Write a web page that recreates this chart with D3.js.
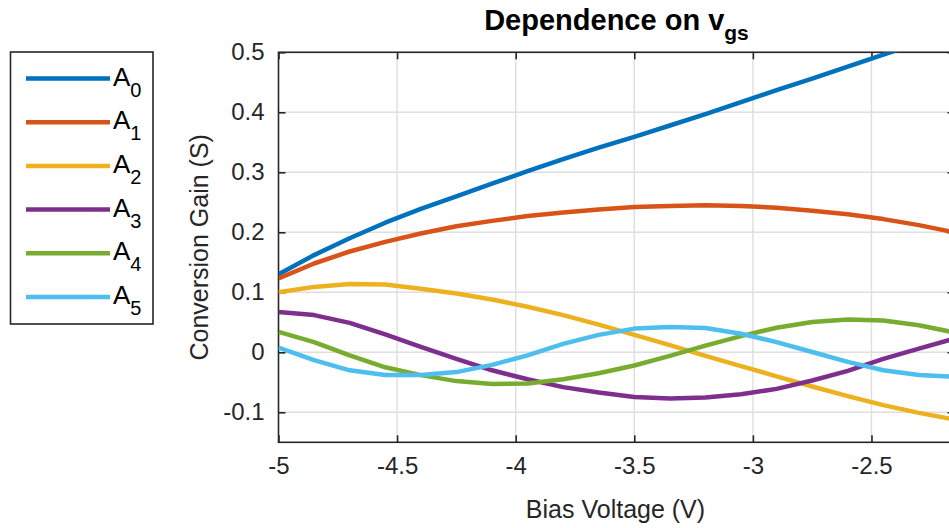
<!DOCTYPE html>
<html>
<head>
<meta charset="utf-8">
<script src="https://cdn.jsdelivr.net/npm/d3@7"></script>
<style>
  html, body { margin: 0; padding: 0; background: #fff; }
  svg { display: block; font-family: "Liberation Sans", Arial, Helvetica, sans-serif; }
</style>
</head>
<body>
<svg id="chart" width="949" height="528"></svg>
<script>
// ---------------- data ----------------
const biasVoltage = [-5, -4.85, -4.7, -4.55, -4.4, -4.25, -4.1, -3.95, -3.8, -3.65,
                     -3.5, -3.35, -3.2, -3.05, -2.9, -2.75, -2.6, -2.45, -2.3, -2.15];
const A0 = [0.130, 0.162, 0.190, 0.216, 0.239, 0.260, 0.281, 0.302, 0.322, 0.341,
            0.359, 0.378, 0.397, 0.417, 0.437, 0.456, 0.476, 0.496, 0.516, 0.536];
const A1 = [0.123, 0.148, 0.168, 0.184, 0.198, 0.210, 0.219, 0.227, 0.233, 0.238,
            0.242, 0.244, 0.245, 0.244, 0.241, 0.236, 0.230, 0.222, 0.212, 0.200];
const A2 = [0.100, 0.109, 0.114, 0.113, 0.106, 0.098, 0.088, 0.076, 0.062, 0.046,
            0.029, 0.012, -0.006, -0.023, -0.040, -0.057, -0.073, -0.088, -0.101, -0.112];
const A3 = [0.067, 0.062, 0.049, 0.030, 0.009, -0.011, -0.030, -0.045, -0.058, -0.067,
            -0.0745, -0.077, -0.0755, -0.070, -0.061, -0.047, -0.031, -0.011, 0.006, 0.023];
const A4 = [0.034, 0.017, -0.005, -0.025, -0.038, -0.048, -0.053, -0.052, -0.045, -0.035,
            -0.022, -0.006, 0.011, 0.027, 0.041, 0.0505, 0.0545, 0.053, 0.045, 0.033];
const A5 = [0.008, -0.013, -0.030, -0.038, -0.038, -0.033, -0.021, -0.005, 0.014, 0.029,
            0.0395, 0.042, 0.0405, 0.031, 0.017, 0.0005, -0.016, -0.030, -0.038, -0.041];
const seriesNames = ["0", "1", "2", "3", "4", "5"];
const seriesValues = [A0, A1, A2, A3, A4, A5];
const seriesColors = ["#0072BD", "#D95319", "#EDB120", "#7E2F8E", "#77AC30", "#4DBEEE"];
const xTicks = [-5, -4.5, -4, -3.5, -3, -2.5];
const yTicks = [-0.1, 0, 0.1, 0.2, 0.3, 0.4, 0.5];
const xDomain = [-5, -2.15];
const yDomain = [-0.15, 0.5];

// ---------------- layout ----------------
const svg = d3.select("#chart");
const L = 278.5, R = 954.5, T = 52.3, B = 442.3;
const axisColor = "#262626";
const x = d3.scaleLinear().domain(xDomain).range([L, R]);
const y = d3.scaleLinear().domain(yDomain).range([B, T]);

svg.append("defs").append("clipPath").attr("id", "plotclip")
  .append("rect").attr("x", L).attr("y", T).attr("width", R - L).attr("height", B - T);

// grid
const grid = svg.append("g").attr("stroke", "#dedede").attr("stroke-width", 1.4);
grid.selectAll("line.gx").data(xTicks.filter(d => d !== xDomain[0])).join("line")
  .attr("x1", d => x(d)).attr("x2", d => x(d)).attr("y1", T).attr("y2", B);
grid.selectAll("line.gy").data(yTicks).join("line")
  .attr("y1", d => y(d)).attr("y2", d => y(d)).attr("x1", L).attr("x2", R);

// axes via d3 axis generators
const tickLen = 7;
const fmtX = d => String(d);
const fmtY = d => (d === 0 ? "0" : d3.format(".1f")(d).replace("−", "-"));

function styleAxis(g) {
  g.select(".domain").remove();
  g.selectAll(".tick line").attr("stroke", axisColor).attr("stroke-width", 1.6);
  g.selectAll(".tick text").attr("fill", axisColor).attr("font-size", 24)
    .attr("font-family", "Liberation Sans, Arial, sans-serif");
}

const xAxisB = svg.append("g").attr("transform", `translate(0,${B})`)
  .call(d3.axisBottom(x).tickValues(xTicks).tickSize(-tickLen).tickPadding(15).tickFormat(fmtX));
styleAxis(xAxisB);
xAxisB.selectAll(".tick text").attr("dy", "0.68em");

const xAxisT = svg.append("g").attr("transform", `translate(0,${T})`)
  .call(d3.axisTop(x).tickValues(xTicks).tickSize(-tickLen).tickFormat(""));
styleAxis(xAxisT);

const yAxisL = svg.append("g").attr("transform", `translate(${L},0)`)
  .call(d3.axisLeft(y).tickValues(yTicks).tickSize(-tickLen).tickPadding(14).tickFormat(fmtY));
styleAxis(yAxisL);

const yAxisR = svg.append("g").attr("transform", `translate(${R},0)`)
  .call(d3.axisRight(y).tickValues(yTicks).tickSize(-tickLen).tickFormat(""));
styleAxis(yAxisR);

// box
svg.append("rect").attr("x", L).attr("y", T).attr("width", R - L).attr("height", B - T)
  .attr("fill", "none").attr("stroke", axisColor).attr("stroke-width", 1.6);

// lines
const line = d3.line().x((d, i) => x(biasVoltage[i])).y(d => y(d));
svg.append("g").attr("clip-path", "url(#plotclip)")
  .selectAll("path").data(seriesValues).join("path")
  .attr("d", d => line(d))
  .attr("fill", "none")
  .attr("stroke", (d, i) => seriesColors[i])
  .attr("stroke-width", 4.5)
  .attr("stroke-linejoin", "round")
  .attr("stroke-linecap", "butt");

// title
const title = svg.append("text").attr("x", (L + R) / 2).attr("y", 30)
  .attr("text-anchor", "middle").attr("font-weight", "bold").attr("font-size", 29).attr("fill", "#000");
title.append("tspan").text("Dependence on v");
title.append("tspan").attr("dy", 10).attr("font-size", 21).text("gs");

// axis labels
svg.append("text").attr("x", (L + R) / 2 - 1).attr("y", 518)
  .attr("text-anchor", "middle").attr("font-size", 25).attr("fill", axisColor)
  .text("Bias Voltage (V)");
svg.append("text").attr("transform", `translate(208,${(T + B) / 2}) rotate(-90)`)
  .attr("text-anchor", "middle").attr("font-size", 25).attr("fill", axisColor)
  .text("Conversion Gain (S)");

// legend
const leg = svg.append("g");
leg.append("rect").attr("x", 10.5).attr("y", 52).attr("width", 142.5).attr("height", 272)
  .attr("fill", "#fff").attr("stroke", axisColor).attr("stroke-width", 1.6);
const ly = i => 78.5 + i * 43.7;
const items = leg.selectAll("g.item").data(seriesNames).join("g").attr("class", "item");
items.append("line").attr("x1", 26).attr("x2", 110)
  .attr("y1", (d, i) => ly(i)).attr("y2", (d, i) => ly(i))
  .attr("stroke", (d, i) => seriesColors[i]).attr("stroke-width", 4.5);
const lt = items.append("text").attr("x", 113).attr("y", (d, i) => ly(i) + 7)
  .attr("font-size", 26).attr("fill", "#000");
lt.append("tspan").text("A");
lt.append("tspan").attr("dy", 11).attr("font-size", 20).text(d => d);
</script>
</body>
</html>
